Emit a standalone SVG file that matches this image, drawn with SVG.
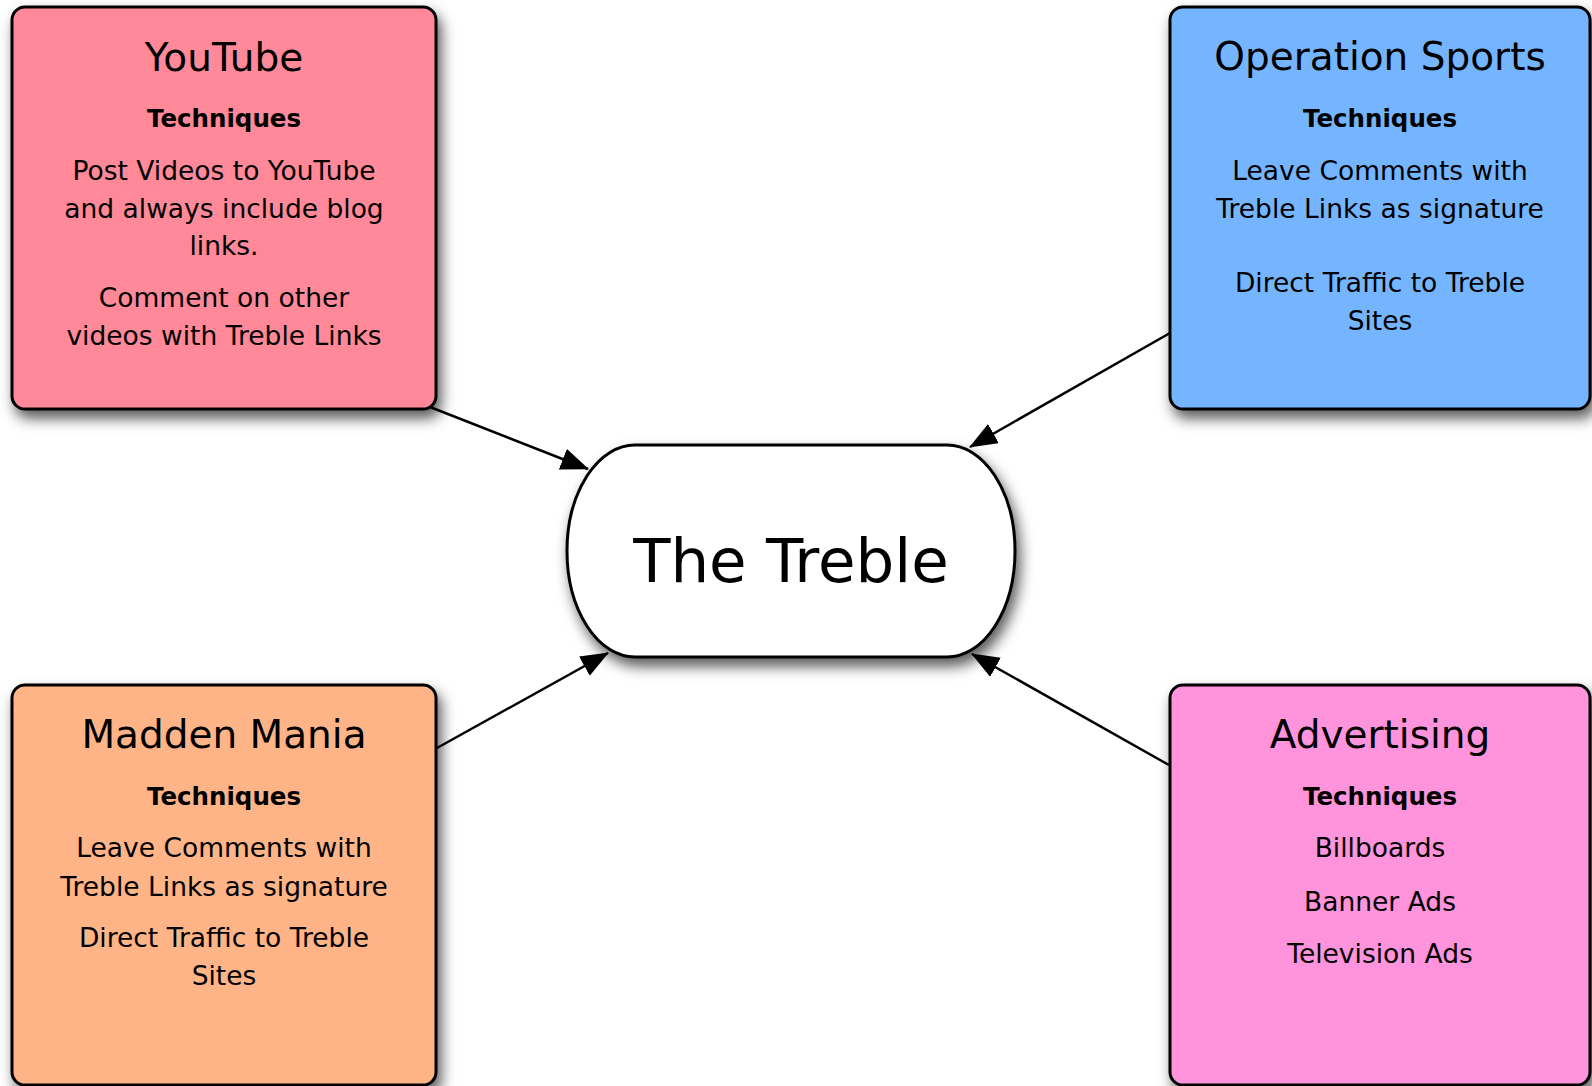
<svg xmlns="http://www.w3.org/2000/svg" width="1592" height="1086" viewBox="0 0 1592 1086">
<defs>
<filter id="sh" x="-10%" y="-10%" width="125%" height="130%">
<feDropShadow dx="4" dy="8" stdDeviation="7" flood-color="#000" flood-opacity="0.65"/>
</filter>
<marker id="ah" markerWidth="28" markerHeight="22" refX="27" refY="11" orient="auto" markerUnits="userSpaceOnUse">
<path d="M0,0 L28,11 L0,22 Z" fill="#000"/>
</marker>
<style>
.box{stroke:#000;stroke-width:3;filter:url(#sh)}
.t{font-family:"DejaVu Sans",sans-serif;text-anchor:middle;fill:#000}
.title{font-size:39px}
.head{font-size:24.5px;font-weight:bold}
.body{font-size:26.5px}
.center{font-size:61px}
.con{stroke:#000;stroke-width:2.5;fill:none;marker-end:url(#ah)}
</style>
</defs>
<rect width="1592" height="1086" fill="#fff"/>
<g id="connectors">
<line class="con" x1="430" y1="407" x2="588" y2="469"/>
<line class="con" x1="1170" y1="333" x2="970" y2="447"/>
<line class="con" x1="437" y1="748" x2="608" y2="653"/>
<line class="con" x1="1169" y1="765" x2="972" y2="654"/>
</g>
<g id="youtube">
<rect class="box" x="12" y="7" width="424" height="402" rx="13" fill="#ff8998"/>
<text class="t title" x="224" y="71">YouTube</text>
<text class="t head" x="224" y="127">Techniques</text>
<text class="t body" x="224" y="180">Post Videos to YouTube</text>
<text class="t body" x="224" y="218">and always include blog</text>
<text class="t body" x="224" y="255">links.</text>
<text class="t body" x="224" y="307">Comment on other</text>
<text class="t body" x="224" y="345">videos with Treble Links</text>
</g>
<g id="operation-sports">
<rect class="box" x="1170" y="7" width="420" height="402" rx="13" fill="#75b5ff"/>
<text class="t title" x="1380" y="70">Operation Sports</text>
<text class="t head" x="1380" y="127">Techniques</text>
<text class="t body" x="1380" y="180">Leave Comments with</text>
<text class="t body" x="1380" y="218">Treble Links as signature</text>
<text class="t body" x="1380" y="292">Direct Traffic to Treble</text>
<text class="t body" x="1380" y="330">Sites</text>
</g>
<g id="the-treble">
<rect class="box" x="567" y="445" width="448" height="212" rx="68" ry="106" fill="#fff"/>
<text class="t center" x="791" y="582">The Treble</text>
</g>
<g id="madden-mania">
<rect class="box" x="12" y="685" width="424" height="400" rx="13" fill="#ffb488"/>
<text class="t title" x="224" y="748">Madden Mania</text>
<text class="t head" x="224" y="805">Techniques</text>
<text class="t body" x="224" y="857">Leave Comments with</text>
<text class="t body" x="224" y="896">Treble Links as signature</text>
<text class="t body" x="224" y="947">Direct Traffic to Treble</text>
<text class="t body" x="224" y="985">Sites</text>
</g>
<g id="advertising">
<rect class="box" x="1170" y="685" width="420" height="400" rx="13" fill="#ff93dc"/>
<text class="t title" x="1380" y="748">Advertising</text>
<text class="t head" x="1380" y="805">Techniques</text>
<text class="t body" x="1380" y="857">Billboards</text>
<text class="t body" x="1380" y="911">Banner Ads</text>
<text class="t body" x="1380" y="963">Television Ads</text>
</g>
</svg>
